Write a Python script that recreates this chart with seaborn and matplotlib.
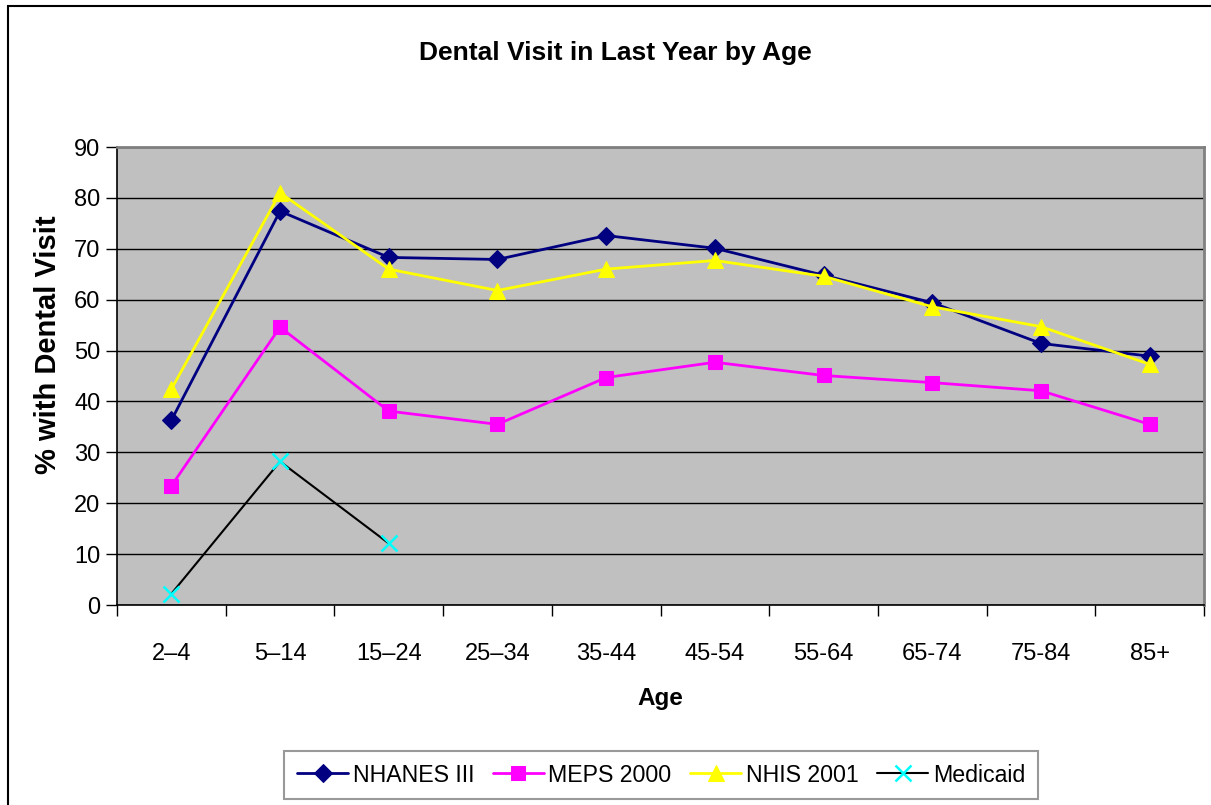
import numpy as np
import pandas as pd
import matplotlib
matplotlib.use("Agg")
import matplotlib.pyplot as plt
import seaborn as sns
from matplotlib.patches import Rectangle

ages = ["2–4", "5–14", "15–24", "25–34", "35-44", "45-54", "55-64", "65-74", "75-84", "85+"]
nhanes = [36.3, 77.4, 68.3, 67.9, 72.6, 70.1, 64.8, 59.4, 51.4, 48.9]
meps = [23.4, 54.6, 38.1, 35.5, 44.7, 47.7, 45.1, 43.7, 42.1, 35.5]
nhis = [42.4, 81.0, 66.0, 61.8, 66.0, 67.7, 64.6, 58.6, 54.7, 47.3]
medicaid_ages = ["2–4", "5–14", "15–24"]
medicaid = [2.2, 28.2, 12.1]

sns.set_theme(style="white")
plt.rcParams['font.family'] = ['Liberation Sans', 'DejaVu Sans']
for k in ["text.color", "axes.labelcolor", "xtick.color", "ytick.color"]:
    plt.rcParams[k] = "black"

fig = plt.figure(figsize=(12.11, 8.05), dpi=100)
ax = fig.add_axes([117/1211, 1-605/805, (1204-117)/1211, (605-147)/805])
ax.set_facecolor("#C0C0C0")

pos = {a: i for i, a in enumerate(ages)}
df = pd.DataFrame({"x": [pos[a] for a in ages], "NHANES III": nhanes,
                   "MEPS 2000": meps, "NHIS 2001": nhis})
dfm = pd.DataFrame({"x": [pos[a] for a in medicaid_ages], "Medicaid": medicaid})

ax.set_axisbelow(True)
ax.yaxis.grid(True, color="black", linewidth=1.0)
sns.lineplot(data=df, x="x", y="NHANES III", ax=ax, color="#000080", lw=2,
             marker="D", markersize=9, markeredgecolor="#000080", label="NHANES III", zorder=3)
sns.lineplot(data=df, x="x", y="MEPS 2000", ax=ax, color="#FF00FF", lw=2,
             marker="s", markersize=10, markeredgecolor="#FF00FF", label="MEPS 2000", zorder=3)
sns.lineplot(data=df, x="x", y="NHIS 2001", ax=ax, color="#FFFF00", lw=2,
             marker="^", markersize=12, markeredgecolor="#FFFF00", label="NHIS 2001", zorder=4)
sns.lineplot(data=dfm, x="x", y="Medicaid", ax=ax, color="black", lw=1.5,
             marker="x", markersize=11, markeredgecolor="#00FFFF", markeredgewidth=1.8,
             label="Medicaid", zorder=5)

ax.set_xlim(-0.5, len(ages) - 0.5)
ax.set_ylim(0, 90)
ax.set_yticks(np.arange(0, 91, 10))
ax.set_xticks(np.arange(len(ages)))
ax.set_xticklabels(ages)
ax.set_xticks(np.arange(-0.5, len(ages), 1.0), minor=True)
ax.tick_params(axis="x", which="major", length=0, pad=27, labelsize=17)
ax.tick_params(axis="x", which="minor", length=8, width=1, direction="out", bottom=True, color="black")
ax.tick_params(axis="y", which="major", length=8, width=1, direction="out", left=True,
               labelsize=17, pad=4)

for s in ["left", "bottom"]:
    ax.spines[s].set_color("black")
    ax.spines[s].set_linewidth(1.2)
for s in ["top", "right"]:
    ax.spines[s].set_color("#808080")
    ax.spines[s].set_linewidth(2)

ax.set_xlabel("Age", fontsize=17.5, fontweight="bold", labelpad=16)
ax.set_ylabel("% with Dental Visit", fontsize=21, fontweight="bold")
ax.yaxis.set_label_coords((62 - 117) / 1087, (605 - 345) / 458)
fig.text(615/1211, 1-53/805, "Dental Visit in Last Year by Age", ha="center", va="center",
         fontsize=19, fontweight="bold")

handles, labels = ax.get_legend_handles_labels()
ax.get_legend().remove()
leg = fig.legend(handles, labels, loc="center", bbox_to_anchor=(661/1211, 1-775/805),
                 ncol=4, frameon=True, fancybox=False, fontsize=16.7, handlelength=2.2,
                 columnspacing=0.8, handletextpad=0.2, borderpad=0.55)
leg.get_frame().set_edgecolor("#808080")
leg.get_frame().set_linewidth(1.5)

fig.patches.append(Rectangle((8/1211, -0.1), 1.2, 1 - 6/805 + 0.1, transform=fig.transFigure,
                             fill=False, edgecolor="black", linewidth=1.5))

fig.savefig("out.png", dpi=100)
